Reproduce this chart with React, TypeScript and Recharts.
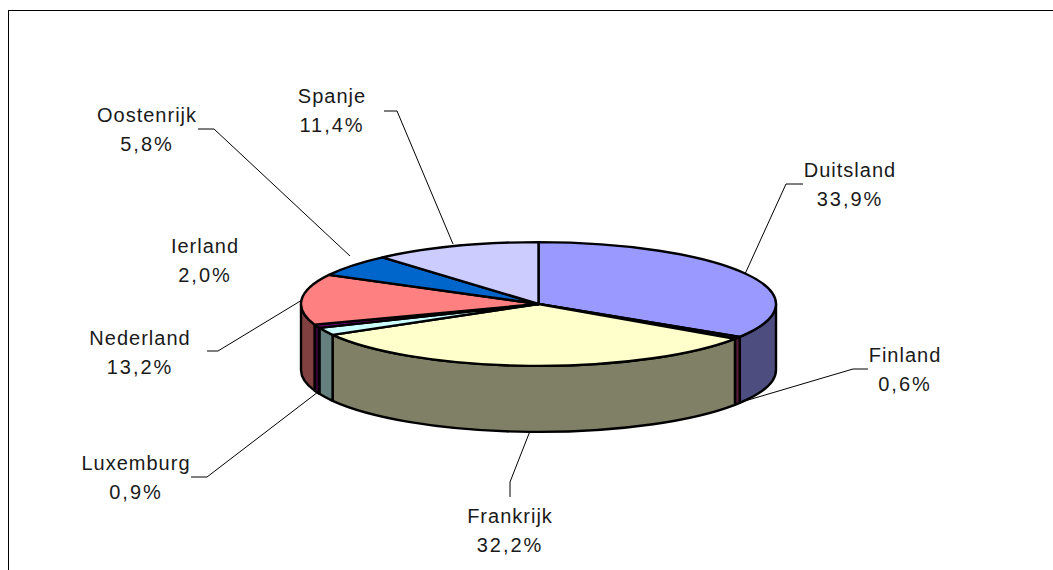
import React from 'react';
import { PieChart, Pie } from 'recharts';

const names = ['Duitsland', 'Finland', 'Frankrijk', 'Ierland', 'Luxemburg', 'Nederland', 'Oostenrijk', 'Spanje'];
const shares = [33.9, 0.6, 32.2, 2.0, 0.9, 13.2, 5.8, 11.4];
const colors = ['#9999FF', '#993366', '#FFFFCC', '#CCFFFF', '#660066', '#FF8080', '#0066CC', '#CCCCFF'];
const sideColors = ['#4D4D80', '#4D1A33', '#808066', '#668080', '#330033', '#804040', '#003366', '#666680'];

// label centres and leader lines, same order as names
const labelCentres = [[850, 184], [905, 369], [510, 530], [205, 260], [136, 477], [140, 352], [147, 129], [332, 110]];
const leaders = [
  [[803, 184], [786, 184], [745, 274]],
  [[868, 369], [853, 369], [738, 403]],
  [[510, 497], [510, 482], [530, 431]],
  [],
  [[191, 477], [207, 477], [318, 392]],
  [[207, 351], [218, 351], [302, 300]],
  [[198, 129], [214, 129], [350, 256]],
  [[384, 111], [397, 111], [453, 244]],
];

const data = names.map((name, i) => ({ name, value: shares[i], fill: colors[i] }));

const squash = 62 / 238;
const depth = 66;

const SliceShape = (props: any) => {
  const { cx, cy, outerRadius: r, startAngle, endAngle, fill } = props;
  const ry = r * squash;
  const pt = (deg: number, dy = 0) => {
    const a = (deg * Math.PI) / 180;
    return `${cx + r * Math.cos(a)} ${cy - ry * Math.sin(a) + dy}`;
  };
  // recharts goes clockwise here, so angles run downward
  const large = Math.abs(endAngle - startAngle) > 180 ? 1 : 0;
  const top = `M${cx} ${cy}L${pt(startAngle)}A${r} ${ry} 0 ${large} 1 ${pt(endAngle)}Z`;

  // only the front half of the rim has a visible wall
  const from = Math.min(startAngle, 0);
  const to = Math.max(endAngle, -180);
  let wall = null;
  if (from > to) {
    const big = from - to > 180 ? 1 : 0;
    wall = `M${pt(from)}A${r} ${ry} 0 ${big} 1 ${pt(to)}L${pt(to, depth)}A${r} ${ry} 0 ${big} 0 ${pt(from, depth)}Z`;
  }
  return (
    <g>
      {wall && <path d={wall} fill={sideColors[names.indexOf(props.name)]} stroke="#000" strokeWidth={2.4} strokeLinejoin="round" />}
      <path d={top} fill={fill} stroke="#000" strokeWidth={2.4} strokeLinejoin="round" />
    </g>
  );
};

const SliceLabel = (props: any) => {
  const i = names.indexOf(props.name);
  const [x, y] = labelCentres[i];
  const pts = leaders[i];
  return (
    <g>
      {pts.length > 0 && <polyline points={pts.map((p) => p.join(',')).join(' ')} fill="none" stroke="#000" strokeWidth={1} />}
      <text x={x} fill="#1a1a1a" fontFamily="Liberation Sans, Arial, sans-serif" fontSize={20} textAnchor="middle">
        <tspan x={x} y={y - 7} letterSpacing={1}>{names[i]}</tspan>
        <tspan x={x} y={y + 22} letterSpacing={2}>{shares[i].toFixed(1).replace('.', ',') + '%'}</tspan>
      </text>
    </g>
  );
};

export default function App() {
  return (
    <div style={{ position: 'absolute', left: 0, top: 0, width: 1053, height: 570, overflow: 'hidden', background: '#fff' }}>
      <div style={{ position: 'absolute', left: 8, top: 10, width: 1100, height: 600, borderLeft: '1.5px solid #000', borderTop: '1.5px solid #000' }} />
      <div style={{ position: 'absolute', left: 0, top: 0 }}>
        <PieChart width={1053} height={570} margin={{ top: 0, right: 0, bottom: 0, left: 0 }}>
          <Pie
            data={data}
            dataKey="value"
            nameKey="name"
            cx={538.5}
            cy={304}
            outerRadius={237.5}
            startAngle={90}
            endAngle={-270}
            stroke="none"
            shape={SliceShape}
            label={SliceLabel}
            labelLine={false}
            isAnimationActive={false}
          />
        </PieChart>
      </div>
    </div>
  );
}
